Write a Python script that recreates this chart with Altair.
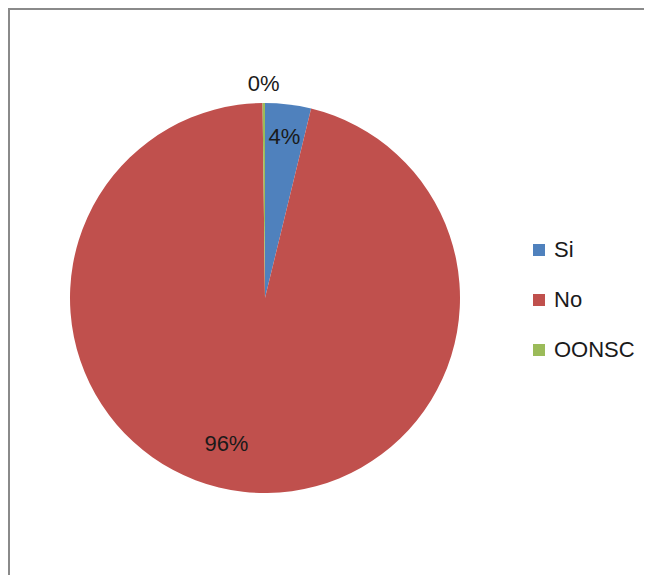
import altair as alt
import pandas as pd

categories = ["Si", "No", "OONSC"]
values = [3.8, 96.0, 0.2]
labels = ["4%", "96%", "0%"]
colors = ["#4F81BD", "#C0504D", "#9BBB59"]

df = pd.DataFrame({"cat": categories, "val": values, "label": labels, "idx": list(range(len(categories)))})

W, H = 636, 567
CX, CY = 257, 290
R = 195
FONT = "Liberation Sans"

base = alt.Chart(df).encode(
    theta=alt.Theta("val:Q", stack=True),
    order=alt.Order("idx:Q"),
    x=alt.value(CX),
    y=alt.value(CY),
)

pie = base.mark_arc(outerRadius=R).encode(
    color=alt.Color(
        "cat:N",
        scale=alt.Scale(domain=categories, range=colors),
        sort=categories,
        legend=alt.Legend(
            title=None,
            orient="none",
            legendX=520,
            legendY=231,
            symbolType="square",
            symbolSize=144,
            symbolStrokeWidth=0,
            labelFontSize=22,
            labelFont=FONT,
            labelColor="#1a1a1a",
            labelOffset=4,
            rowPadding=28,
            padding=0,
        ),
    )
)


def label_layer(cat, radius, dx=0):
    return base.mark_text(
        radius=radius, fontSize=22, font=FONT, color="#1a1a1a", dx=dx
    ).encode(text="t:N").transform_calculate(
        t=f"datum.cat == '{cat}' ? datum.label : ''"
    )


txt_si = label_layer("Si", 162)
txt_no = label_layer("No", 147, dx=-22)
txt_oo = label_layer("OONSC", 214)

frame_top = alt.Chart(df).mark_rule(color="#8a8a8a", strokeWidth=2).encode(
    x=alt.value(0), x2=alt.value(W), y=alt.value(1)
)
frame_left = alt.Chart(df).mark_rule(color="#8a8a8a", strokeWidth=2).encode(
    x=alt.value(1), y=alt.value(0), y2=alt.value(H)
)

chart = alt.layer(frame_top, frame_left, pie, txt_si, txt_no, txt_oo).properties(
    width=W, height=H, padding=0, autosize=alt.AutoSizeParams(type="none")
).configure_view(stroke="transparent", strokeWidth=0)

chart.save("out.html", embed_options={"renderer": "svg", "actions": False})
